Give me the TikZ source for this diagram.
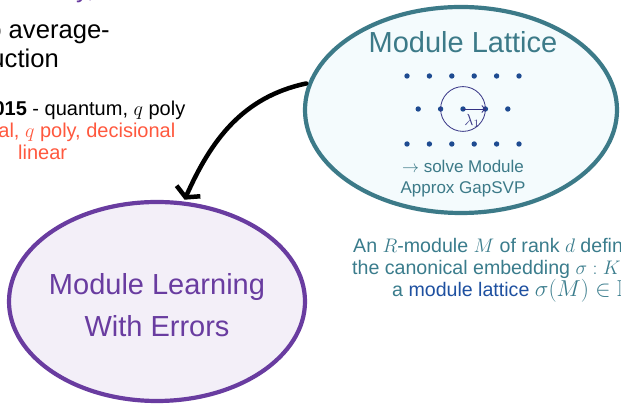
\RequirePackage{fix-cm}
\documentclass[tikz,border=0pt]{standalone}
\usepackage{amssymb}
\usepackage{fontspec}
\setmainfont{Liberation Sans}
\usetikzlibrary{shapes.geometric,arrows.meta}

\definecolor{lattline}{RGB}{60,122,136}
\definecolor{lattfill}{RGB}{244,251,253}
\definecolor{lattdot}{RGB}{30,75,145}
\definecolor{lattnavy}{RGB}{52,50,132}
\definecolor{lwepurple}{RGB}{105,60,160}
\definecolor{lwefill}{RGB}{243,239,248}
\definecolor{orangered}{RGB}{255,88,62}
\definecolor{embedteal}{RGB}{58,124,140}
\definecolor{embedblue}{RGB}{30,80,160}

% slightly larger inline maths
\newcommand{\bigmath}[1]{{\fontsize{23}{23}\selectfont$#1$}}

\begin{document}
\begin{tikzpicture}[x=1pt,y=1pt,
    every node/.style={inner sep=0pt},
    bubble/.style={ellipse,line width=4.2pt},
    latpt/.style={circle,fill=lattdot,minimum size=5.4pt},
    big/.style={font=\fontsize{29}{42}\selectfont},
    bullet/.style={font=\fontsize{20}{22}\selectfont},
    embed/.style={anchor=base west,text=embedteal,font=\fontsize{19.6}{22}\selectfont}]
  \useasboundingbox (0,0) rectangle (621,406);
  \clip (0,0) rectangle (621,406);

  % bullet text, cut by the frame on the left
  \node[anchor=base west,text=lwepurple,font=\fontsize{25.6}{30}\selectfont] (prev) at (76,408) {y,};
  \node[anchor=base east,font=\fontsize{25.6}{30}\selectfont] (avg) at (110,367.5) {to average-};
  \node[anchor=base east,font=\fontsize{25.6}{30}\selectfont] (red) at (59,338) {reduction};
  \node[anchor=base east,bullet] (quant) at (185.5,290) {\textbf{2015} - quantum, $q$ poly};
  \node[anchor=base east,bullet,text=orangered] (class) at (175.5,268) {classical, $q$ poly, decisional};
  \node[anchor=base west,bullet,text=orangered] (lin) at (18,246) {linear};

  % the two bubbles
  \node[bubble,draw=lattline,fill=lattfill,minimum width=312pt,minimum height=206pt] (lat) at (461,296) {};
  \node[bubble,draw=lwepurple,fill=lwefill,minimum width=296pt,minimum height=199pt] (lwe) at (157,104.5) {};
  \node[big,text=lwepurple,align=center] (lwetxt) at (157,101) {Module Learning\\With Errors};
  \node[big,anchor=base,text=lattline] (lattitle) at (463,353) {Module Lattice};

  % lattice points and the first minimum
  \foreach \i in {0,...,5} {
    \node[latpt] (t\i) at (407+22.4*\i,330) {};
    \node[latpt] (b\i) at (407+22.4*\i,262) {};
  }
  \foreach \i in {0,...,4}
    \node[latpt] (m\i) at (418.2+22.4*\i,297) {};
  \node[circle,draw=lattnavy,line width=0.8pt,minimum size=44.8pt] (ball) at (m2) {};
  \draw[lattnavy,line width=0.9pt,-{Straight Barb[length=3pt,width=7pt]}] (m2.center) -- (m3.center);
  \node[text=lattnavy,font=\fontsize{16}{18}\selectfont] (lam) at (472,285) {$\lambda_1$};

  \node[anchor=base,text=lattline,font=\fontsize{17}{21}\selectfont] (solve) at (463,233) {$\rightarrow$ solve Module};
  \node[anchor=base,text=lattline,font=\fontsize{17}{21}\selectfont] (gap) at (463,212) {Approx GapSVP};

  % reduction arrow
  \draw[line width=4.5pt,line cap=round,line join=round,shorten <=2pt,shorten >=2pt,
        -{Straight Barb[length=7pt,width=26pt]}] (lat.170) to[out=192,in=66] (lwe.75);

  % definition text below, cut on the right
  \node[embed] (def1) at (353,153) {An $R$-module $M$ of rank $d$ defines};
  \node[embed] (def2) at (352,131) {the canonical embedding $\sigma : K^d$};
  \node[embed] (def3) at (392,109) {a \textcolor{embedblue}{module lattice} \bigmath{\sigma(M) \in \mathbb{R}^{nd}}};
\end{tikzpicture}
\end{document}
